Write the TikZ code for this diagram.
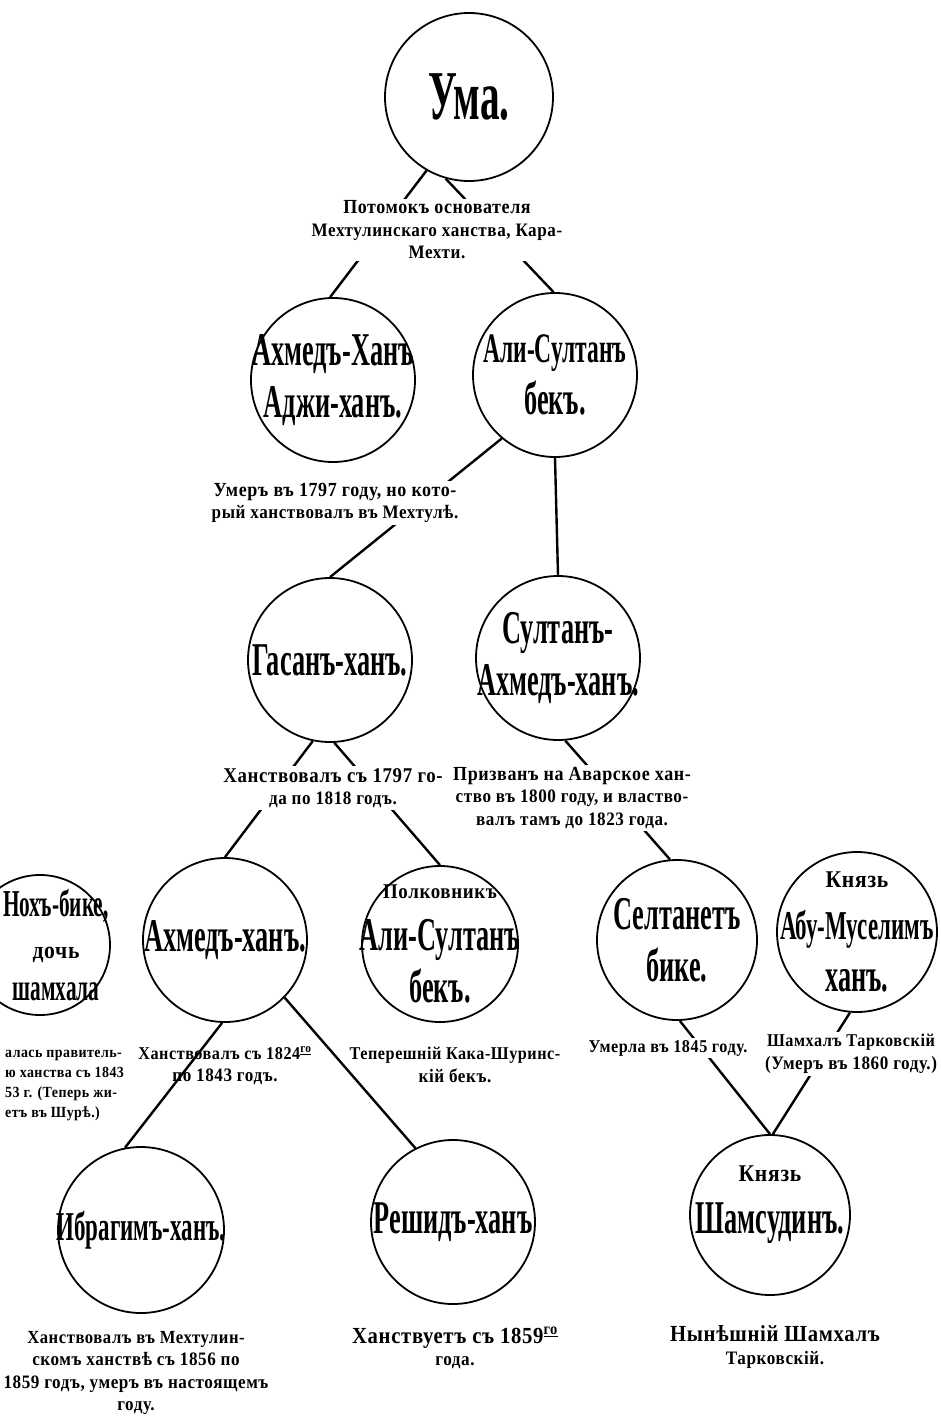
\documentclass[tikz,border=0pt]{standalone}
\usepackage{fontspec}
\setmainfont{Liberation Serif}
\newfontfamily\namefont[FakeStretch=0.56]{Liberation Serif}
\newfontfamily\notefont[FakeStretch=0.9,LetterSpace=3]{Liberation Serif}
\newcommand{\namesize}[1]{\fontsize{#1}{#1}\selectfont}
\newcommand{\titlename}[1]{{\notefont\fontsize{24}{24}\selectfont #1}}

\begin{document}
\begin{tikzpicture}[x=1pt, y=-1pt,
                    person/.style={circle, draw, line width=1.8pt, minimum size=164pt, inner sep=-45pt, align=center,
                                   font=\namefont\bfseries\fontsize{47}{52}\selectfont},
                    note/.style={align=center, fill=white, inner sep=2pt, font=\notefont\bfseries\fontsize{19}{22.5}\selectfont},
                    plainnote/.style={note, fill=none},
                    link/.style={line width=2.4pt}]

    \useasboundingbox (0,0) rectangle (940,1421);

    % circles
    \node[person, minimum size=168pt] (uma) at (469,97) {\namesize{70}Ума.};
    \node[person] (ahmedaji)    at (333,380) {Ахмедъ-Ханъ\\Аджи-ханъ.};
    \node[person] (alisultan)   at (555,375) {\fontsize{42}{52}\selectfont Али-Султанъ\\бекъ.};
    \node[person] (gasan)       at (330,660) {Гасанъ-ханъ.};
    \node[person] (sultanahmed) at (558,658) {Султанъ-\\Ахмедъ-ханъ.};
    \node[person, minimum size=140pt] (nohbike) at (40,945) {};
    \node[align=center, font=\namefont\bfseries\fontsize{38}{42}\selectfont] (nohname) at (56,945)
        {Нохъ-бике,\\\titlename{дочь}\\шамхала};
    \node[person] (ahmed)       at (225,940) {Ахмедъ-ханъ.};
    \node[person, minimum size=156pt] (polkovnik)  at (440,944) {{\notefont\fontsize{21}{21}\selectfont Полковникъ}\\Али-Султанъ\\бекъ.};
    \node[person, minimum size=160pt] (seltanet)   at (677,940) {Селтанетъ\\бике.};
    \node[person, minimum size=160pt] (abumuselim) at (857,932) {\titlename{Князь}\\{\namesize{41}Абу-Муселимъ}\\ханъ.};
    \node[person, minimum size=166pt] (ibragim)    at (141,1230) {\namesize{41}Ибрагимъ-ханъ.};
    \node[person] (reshid)      at (453,1222) {Решидъ-ханъ};
    \node[person, minimum size=160pt] (shamsudin)  at (770,1215) {\titlename{Князь}\\Шамсудинъ.\\[-22pt]\mbox{}};

    % lines
    \draw[link] (uma.240) -- (ahmedaji.92);
    \draw[link] (uma.254) -- (alisultan.91);
    \draw[link] (alisultan.230) -- (gasan.90);
    \draw[link] (alisultan.270) -- (sultanahmed.90);
    \draw[link] (gasan.258) -- (ahmed.90);
    \draw[link] (gasan.273) -- (polkovnik.90);
    \draw[link] (sultanahmed.275) -- (seltanet.95);
    \draw[link] (ahmed.268) -- (ibragim.101);
    \draw[link] (ahmed.316) -- (reshid.117);
    \draw[link] (seltanet.272) -- (shamsudin.90);
    \draw[link] (abumuselim.265) -- (shamsudin.88);

    % notes
    \node[note] (n_uma)    at (437,230)  {\fontsize{20}{22.5}\selectfont Потомокъ основателя\\Мехтулинскаго ханства, Кара-\\Мехти.};
    \node[note] (n_ali)    at (335,503)  {\fontsize{20}{25}\selectfont Умеръ въ 1797 году, но кото-\\рый ханствовалъ въ Мехтулѣ.};
    \node[note] (n_gasan)  at (333,788)  {\fontsize{21}{24}\selectfont Ханствовалъ съ 1797 го-\\да по 1818 годъ.};
    \node[note] (n_sultan) at (572,798)  {\fontsize{20}{23.5}\selectfont Призванъ на Аварское хан-\\ство въ 1800 году, и властво-\\валъ тамъ до 1823 года.};
    \node[note, align=left, anchor=north west, font=\notefont\bfseries\fontsize{15.5}{20}\selectfont] (n_noh) at (3,1048)
        {алась правитель-\\ю ханства съ 1843\\53 г. (Теперь жи-\\етъ въ Шурѣ.)};
    \node[plainnote] (n_ahmed) at (225,1066) {\fontsize{18}{22.5}\selectfont Ханствовалъ съ 1824\textsuperscript{\underline{го}}\\по 1843 годъ.};
    \node[plainnote] (n_polk)  at (455,1065) {\fontsize{18}{21}\selectfont Теперешній Кака-Шуринс-\\кій бекъ.};
    \node[note] (n_selt)   at (668,1048) {\fontsize{18}{22}\selectfont Умерла въ 1845 году.};
    \node[note] (n_abu)    at (851,1054) {\fontsize{18}{22}\selectfont Шамхалъ Тарковскій\\(Умеръ въ 1860 году.)};
    \node[note] (n_ibr)    at (136,1373) {\fontsize{18.5}{22.5}\selectfont Ханствовалъ въ Мехтулин-\\скомъ ханствѣ съ 1856 по\\1859 годъ, умеръ въ настоящемъ\\году.};
    \node[note] (n_resh)   at (455,1348) {\fontsize{23}{25}\selectfont Ханствуетъ съ 1859\textsuperscript{\underline{го}}\\года.};
    \node[note] (n_sham)   at (775,1347) {\fontsize{23}{23}\selectfont Нынѣшній Шамхалъ\\Тарковскій.};
\end{tikzpicture}
\end{document}
